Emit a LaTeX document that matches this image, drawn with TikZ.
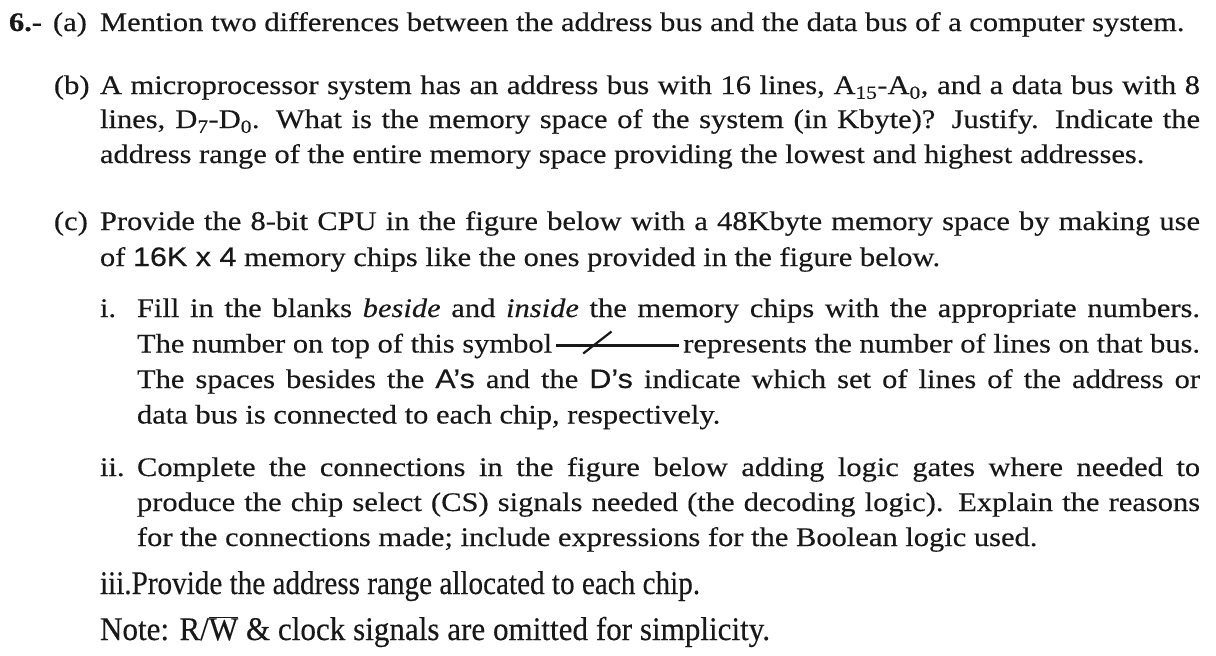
\documentclass[tikz,border=0pt]{standalone}
\usepackage{fontspec}
\setmainfont{Liberation Serif}[FakeBold=0.3]
\setsansfont{Liberation Sans}[FakeBold=0.3]
\usepackage{graphicx}
\usetikzlibrary{calc}

% a justified line: stretch the spaces to the measure, or squeeze the line if too long
\newlength\linew
\newcommand\jline[2]{\settowidth\linew{#2}\ifdim\linew<#1\relax\makebox[#1][s]{#2}\else\resizebox{#1}{\height}{#2}\fi}
% a horizontally condensed line of given width
\newcommand\narrowline[2]{\resizebox{#1}{\height}{#2}}
% slightly flattened glyphs
\newcommand\squat[1]{\scalebox{1}[0.88]{#1}}

\definecolor{ink}{RGB}{24,24,24}

\tikzset{
  txt/.style={anchor=base west, inner sep=0pt, outer sep=0pt, text=ink,
              font=\fontsize{30.5}{36}\selectfont},
  bigtxt/.style={txt, font=\fontsize{33}{40}\selectfont},
  busline/.style={draw=ink, line width=2.2pt}
}

\begin{document}
\begin{tikzpicture}[x=1pt,y=-1pt]
\fill[white] (0,0) rectangle (1216,656);
\useasboundingbox (0,0) rectangle (1216,656);

% question number and part (a)
\node[txt] (qnum) at (9,31) {\squat{\textbf{6.-}}};
\node[txt] (la) at (53,31) {\squat{(a)}};
\node[txt] (a1) at (100,31) {\squat{Mention two differences between the address bus and the data bus of a computer system.}};

% part (b)
\node[txt] (lb) at (54,94) {\squat{(b)}};
\node[txt] (b1) at (100,94) {\squat{\jline{1100pt}{A microprocessor system has an address bus with 16 lines, A\textsubscript{15}-A\textsubscript{0}, and a data bus with 8}}};
\node[txt] (b2) at (100,128) {\squat{\jline{1100pt}{lines, D\textsubscript{7}-D\textsubscript{0}. What is the memory space of the system (in Kbyte)? Justify. Indicate the}}};
\node[txt] (b3) at (100,163) {\squat{address range of the entire memory space providing the lowest and highest addresses.}};

% part (c)
\node[txt] (lc) at (54,230) {\squat{(c)}};
\node[txt] (c1) at (100,230) {\squat{\jline{1100pt}{Provide the 8-bit CPU in the figure below with a 48Kbyte memory space by making use}}};
\node[txt] (c2) at (100,266) {\squat{of {\sffamily 16K x 4} memory chips like the ones provided in the figure below.}};

% item i
\node[txt] (li) at (100,317) {\squat{i.}};
\node[txt] (i1) at (137,317) {\squat{\jline{1063pt}{Fill in the blanks \textit{beside} and \textit{inside} the memory chips with the appropriate numbers.}}};
\node[txt] (i2l) at (137,352.5) {\squat{The number on top of this symbol}};
\node[txt, anchor=base east] (i2r) at (1200,352.5) {\squat{represents the number of lines on that bus.}};
\coordinate (busA) at ([xshift=4pt,yshift=7pt]i2l.base east);
\coordinate (busB) at ([xshift=-4pt,yshift=7pt]i2r.base west);
\draw[busline] (busA) -- (busB);
\draw[busline] ($(busA)!0.22!(busB)+(0,8)$) -- ($(busA)!0.45!(busB)+(0,-14)$);
\node[txt] (i3) at (137,388) {\squat{\jline{1063pt}{The spaces besides the {\sffamily A's} and the {\sffamily D's} indicate which set of lines of the address or}}};
\node[txt] (i4) at (137,423.5) {\squat{data bus is connected to each chip, respectively.}};

% item ii
\node[txt] (lii) at (100,476) {\squat{ii.}};
\node[txt] (ii1) at (137,476) {\squat{\jline{1063pt}{Complete the connections in the figure below adding logic gates where needed to}}};
\node[txt] (ii2) at (137,511) {\squat{\jline{1063pt}{produce the chip select (CS) signals needed (the decoding logic). Explain the reasons}}};
\node[txt] (ii3) at (137,546) {\squat{for the connections made; include expressions for the Boolean logic used.}};

% item iii and note
\node[bigtxt] (iii) at (100,594) {\narrowline{600pt}{iii.Provide the address range allocated to each chip.}};
\node[bigtxt] (note) at (100,640) {\narrowline{670pt}{Note: R/$\overline{\hbox{W}}$ \& clock signals are omitted for simplicity.}};
\end{tikzpicture}
\end{document}
